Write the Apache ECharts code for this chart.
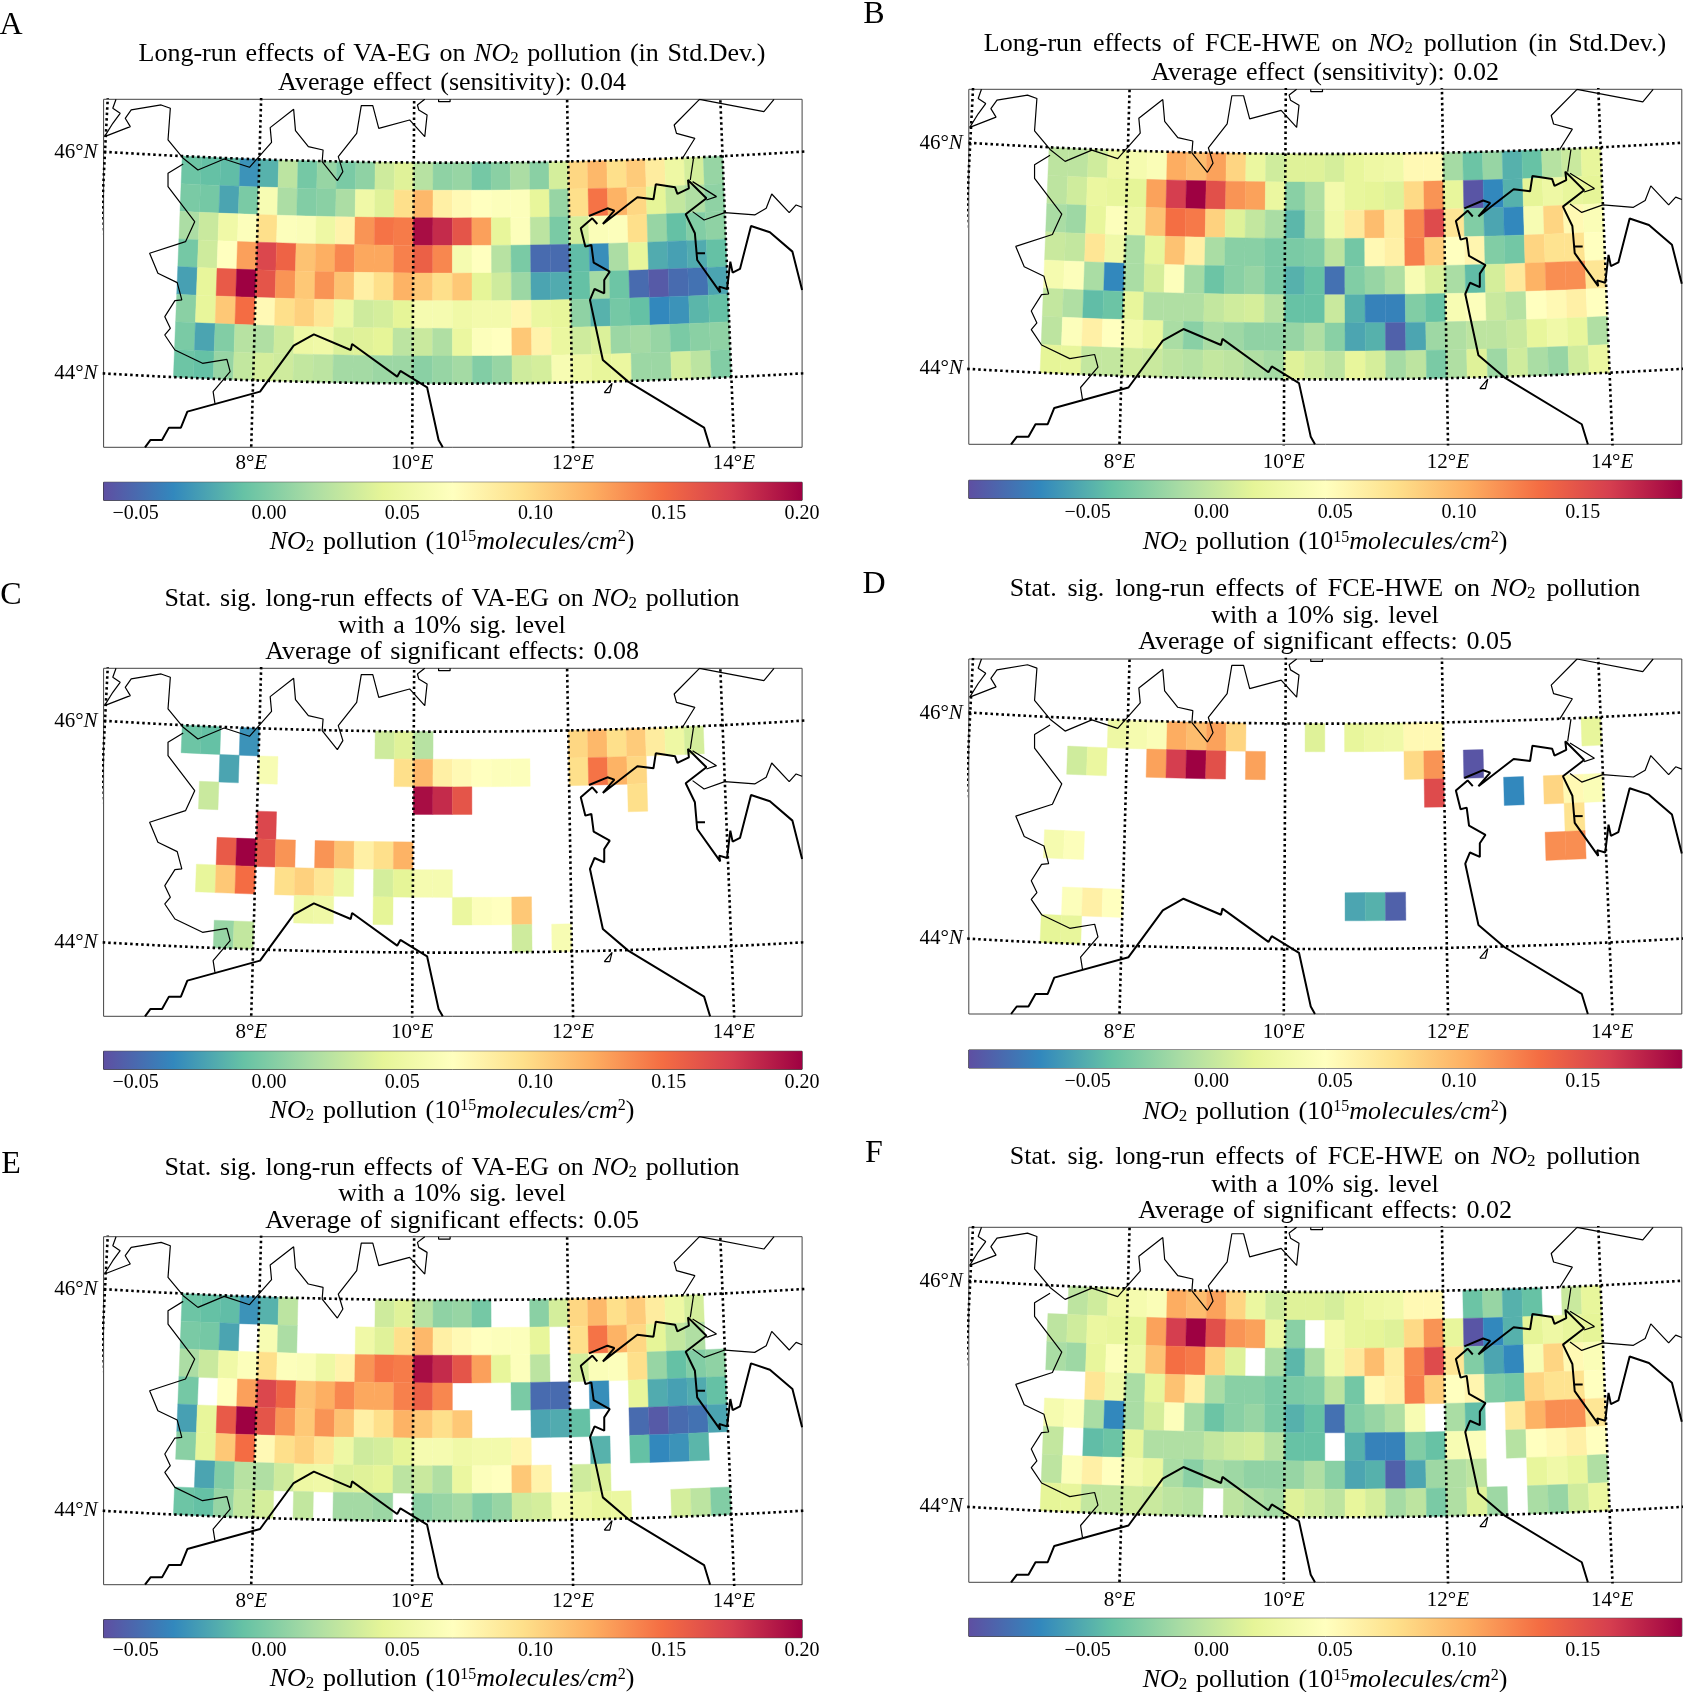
<!DOCTYPE html>
<html><head><meta charset="utf-8">
<style>html,body{margin:0;padding:0;background:#fff}#c{width:1683px;height:1692px}</style>
<script src="https://cdn.jsdelivr.net/npm/echarts@6/dist/echarts.min.js"></script>
</head><body><div id="c"></div>
<script>
// NO2 effect per 0.25 degree cell; rows north to south, columns west to east
const valuesVA = [
[-.007,-.010,-.012,-.031,-.017,.024,-.004,.009,-.002,.006,.032,.040,.022,.006,.009,-.004,.004,.017,.004,.035,.100,.116,.095,.106,.085,.051,.035,.009],
[-.002,-.004,-.023,-.002,.061,.017,.001,.004,.017,.053,.040,.095,.116,.082,.074,.069,.066,.066,.045,.009,.095,.145,.119,.100,.043,.027,.019,.006],
[.017,.030,.053,.066,.095,.066,.064,.051,.079,.132,.145,.142,.195,.182,.161,.127,.045,.066,.024,-.002,.035,.064,.066,.095,.009,-.010,.001,.006],
[-.004,.032,.069,.127,.169,.153,.111,.121,.137,.124,.124,.140,.155,.137,.059,.069,.022,-.002,-.049,-.049,-.012,-.033,.017,.045,-.020,-.025,-.020,-.010],
[-.025,.045,.158,.200,.161,.132,.108,.132,.111,.082,.095,.119,.108,.095,.108,.043,.032,.011,-.023,-.020,-.010,.014,-.007,-.049,-.057,-.049,-.046,-.023],
[.004,.045,.108,.148,.074,.095,.103,.090,.051,.032,.035,.043,.059,.059,.053,.056,.056,.077,.048,.045,.006,-.017,-.004,-.010,-.036,-.031,-.015,-.010],
[-.002,-.023,.001,.022,.019,.032,.051,.053,.038,.040,.043,.024,.030,.019,.048,.066,.069,.108,.079,.048,.032,.038,.011,.014,.009,-.002,.004,.006],
[-.007,-.010,.009,.027,.035,.032,.027,.024,.014,.014,.011,.011,.004,.009,.014,.001,.009,.032,.035,.061,.051,.045,.048,.011,.011,.035,.024,.001]
];
const valuesFCE = [
[-.003,-.003,.006,.026,.034,.040,.104,.095,.109,.081,.023,.006,.014,.014,.009,.020,.026,.029,.052,.052,-.014,-.038,-.020,-.049,-.040,-.006,.003,.020],
[-.003,.006,.023,.020,.017,.109,.161,.190,.150,.115,.109,.023,-.026,-.009,.032,.020,.017,.014,.078,.115,.020,-.095,-.069,-.049,.017,.026,.020,.017],
[-.012,-.017,.020,.043,.026,.092,.132,.127,.083,.014,.000,-.012,-.046,-.012,.029,.066,.095,.063,.121,.153,.069,-.029,-.055,-.069,.037,.081,.052,.040],
[.003,.000,.069,.029,-.012,.020,.092,.060,-.012,-.026,-.026,-.032,-.032,-.029,-.003,-.035,.052,.060,.124,.086,.046,.055,-.029,-.035,.081,.072,.072,.046],
[.034,.043,-.012,-.069,-.012,.009,.043,-.014,-.038,-.026,-.020,-.032,-.049,-.040,-.081,-.029,-.020,-.009,.037,.011,-.012,-.043,.009,.066,.101,.118,.118,.069],
[.000,-.009,-.043,-.038,.020,-.009,-.009,-.009,.000,.006,.009,-.006,-.040,-.040,.003,-.049,-.072,-.072,-.029,-.040,.037,.043,.003,-.006,.046,.052,.060,.046],
[-.003,.043,.060,.046,.032,.023,-.012,-.026,-.012,-.017,-.023,-.023,-.020,-.009,-.026,-.055,-.049,-.089,-.055,-.017,-.009,-.003,-.003,.003,.020,.029,.020,-.009],
[.017,.020,.000,.000,.006,.003,-.003,-.006,.000,-.003,-.009,-.014,.014,.006,-.003,.020,.009,-.014,-.003,-.032,-.009,.014,-.017,.006,-.012,-.020,.006,.023]
];
// significant columns per row (panels C, D)
const sigC = [
[0,1,3,10,11,12,20,21,22,23,24,25,26],[2,4,11,12,13,14,15,16,17,20,21,22,23],[1,12,13,14,23],[4],
[2,3,4,5,7,8,9,10,11],[1,2,3,5,6,7,8,10,11,12,13],[6,7,10,14,15,16,17],[2,3,17,19]];
const sigD = [
[3,4,5,6,7,8,9,13,15,16,17,18,19,27],[1,2,5,6,7,8,10,18,19,21],[19,23,25,26,27],[26],
[0,1,25,26],[],[1,2,3,15,16,17],[0,1]];
// insignificant columns per row (panels E, F)
const dropE = [
[6,7,8,9,16,17,27],[3,6,7,8,19,27],[19],[1,14,15,16,20,22],
[15,16,17,21,22],[18,19,20,22,27],[0,19,22,23,24,25,26,27],[5,7,11,23,24]];
const dropF = [[0,20,25],[13],[10],[0,1],[19,22],[1,14,22],[22,23],[8,23]];
const lonTicks = [8,10,12,14];
const latTicks = [44,46];
const cbTicksVA = [-0.05,0,0.05,0.10,0.15,0.20];
const cbTicksFCE = [-0.05,0,0.05,0.10,0.15];
const spectralR = ['#5e4fa2','#3288bd','#66c2a5','#abdda4','#e6f598','#ffffbf','#fee08b','#fdae61','#f46d43','#d53e4f','#9e0142'];
// borders and coast, in map easting / northing units
const thinLines = [
[[57,28],[50,55],[66,70],[50,100],[32,140],[88,110],[77,85],[90,60],[155,45],[175,55],[170,150],[203,205],[235,240],[292,207],[347,232],[395,157],[392,113],[443,58],[447,122],[475,170],[507,180],[505,215],[538,272],[550,245],[540,200],[580,130],[590,47],[615,47],[628,115],[695,90],[728,140],[733,75],[715,60],[712,45],[728,28]],
[[758,28],[758,35],[783,35],[783,28]],
[[203,222],[170,250],[170,290],[228,395],[208,455],[130,490],[148,550],[190,578],[200,630],[185,632],[163,680],[175,715],[163,735],[185,780],[245,820],[298,808],[305,845],[268,905],[272,940]],
[[1487,28],[1465,65],[1325,28],[1270,105],[1275,130],[1315,145],[1288,205]],
[[1312,205],[1305,270]],
[[1310,275],[1362,320],[1340,330]],
[[1310,365],[1335,390],[1380,368],[1445,375],[1470,355],[1482,312],[1520,368],[1535,345],[1548,352]],
[[1118,908],[1135,880],[1130,908],[1118,908]]
];
const coastLines = [
[[120,1072],[132,1050],[157,1050],[172,1013],[198,1013],[212,965],[370,905],[443,767],[487,733],[567,780],[570,762],[668,860],[675,843],[733,892],[758,1050],[767,1072]],
[[1348,1072],[1335,1013],[1170,875],[1115,810],[1087,630],[1097,597],[1118,610],[1118,570],[1130,545],[1095,518],[1090,465],[1077,470],[1067,415],[1092,385],[1103,402]],
[[1085,378],[1125,355],[1140,362],[1115,402],[1190,322],[1225,328],[1230,283],[1272,292],[1277,312],[1302,295],[1300,270],[1340,325],[1295,373],[1315,430],[1320,510],[1370,607],[1368,590],[1385,597],[1392,515],[1397,548],[1413,537],[1437,408],[1478,427],[1527,485],[1548,600]],
[[1318,490],[1337,490]]
];

// conic-like map projection: lon, lat -> easting, northing
function proj(lon, lat){
  const w = 174.8 - 2.731*(lat-43.424), d = lon-10.5;
  return [788 + d*w, 881 - (lat-44)*331.5 - 1.6*d*d];
}
function colorAt(t){
  t = Math.max(0,Math.min(1,t))*10;
  const i = Math.min(9,Math.floor(t)), f = t-i;
  const h = s=>[1,3,5].map(k=>parseInt(s.substr(k,2),16));
  const a=h(spectralR[i]), b=h(spectralR[i+1]);
  return 'rgb('+a.map((v,k)=>Math.round(v+(b[k]-v)*f)).join(',')+')';
}
const SERIF = '"Liberation Serif","DejaVu Serif",serif';
const titleSize = 26;
const RICH = {
  i:{fontStyle:'italic',fontFamily:SERIF,fontSize:titleSize,color:'#000'},
  s:{fontFamily:SERIF,fontSize:17,color:'#000',verticalAlign:'bottom',lineHeight:20,padding:[10,0,0,0]},
  u:{fontFamily:SERIF,fontSize:16,color:'#000',verticalAlign:'top',lineHeight:20,padding:[0,0,8,0]}
};
const NO2 = '{i|NO}{s|2}';
const wide = s=>s.replace(/ /g,' \u200A');
const wider = s=>s.replace(/ /g,' \u200A\u200A');
const WL = 698.5, WR = 713;
const panels = [
 {tag:'A',x:103.6,y:99.3,w:WL,h:348,tagX:11,tagY:26,vals:valuesVA,range:[-0.062,0.2],ticks:cbTicksVA,keep:null,drop:null,
  lines:['Long-run effects of VA-EG on '+NO2+' pollution (in Std.Dev.)','Average effect (sensitivity): 0.04']},
 {tag:'B',x:968.8,y:89.3,w:WR,h:355,tagX:874,tagY:15,vals:valuesFCE,range:[-0.098,0.19],ticks:cbTicksFCE,keep:null,drop:null,
  lines:['Long-run effects of FCE-HWE on '+NO2+' pollution (in Std.Dev.)','Average effect (sensitivity): 0.02']},
 {tag:'C',x:103.6,y:668.3,w:WL,h:348,tagX:11,tagY:596,vals:valuesVA,range:[-0.062,0.2],ticks:cbTicksVA,keep:sigC,drop:null,
  lines:['Stat. sig. long-run effects of VA-EG on '+NO2+' pollution','with a 10% sig. level','Average of significant effects: 0.08']},
 {tag:'D',x:968.8,y:659,w:WR,h:355,tagX:874,tagY:585,vals:valuesFCE,range:[-0.098,0.19],ticks:cbTicksFCE,keep:sigD,drop:null,
  lines:['Stat. sig. long-run effects of FCE-HWE on '+NO2+' pollution','with a 10% sig. level','Average of significant effects: 0.05']},
 {tag:'E',x:103.6,y:1236.7,w:WL,h:348,tagX:11,tagY:1165,vals:valuesVA,range:[-0.062,0.2],ticks:cbTicksVA,keep:null,drop:dropE,
  lines:['Stat. sig. long-run effects of VA-EG on '+NO2+' pollution','with a 10% sig. level','Average of significant effects: 0.05']},
 {tag:'F',x:968.8,y:1227.3,w:WR,h:355,tagX:874,tagY:1154,vals:valuesFCE,range:[-0.098,0.19],ticks:cbTicksFCE,keep:null,drop:dropF,
  lines:['Stat. sig. long-run effects of FCE-HWE on '+NO2+' pollution','with a 10% sig. level','Average of significant effects: 0.02']}
];
const option = {animation:false,backgroundColor:'#fff',title:[],grid:[],xAxis:[],yAxis:[],series:[]};
const X0 = 30, X1 = 1548, Y0 = 28, Y1 = 1072;
const latBottom = 43.424;
const lonAtLeft = 6.04;
panels.forEach((p,idx)=>{
  const left = p.x<500;
  option.grid.push({left:p.x,top:p.y,width:p.w,height:p.h,show:true,borderColor:'#444',borderWidth:1,backgroundColor:'#fff',containLabel:false});
  const xTickVals = lonTicks.map(l=>proj(l,latBottom)[0]);
  const yTickVals = latTicks.map(l=>proj(lonAtLeft,l)[1]+1);
  const gi = option.grid.length-1;
  option.xAxis.push({type:'value',gridIndex:gi,min:X0,max:X1,splitLine:{show:false},axisLine:{show:false},axisTick:{show:false},
    axisLabel:{show:true,customValues:xTickVals,margin:left?6:7.5,fontFamily:SERIF,fontSize:21,color:'#000',
      formatter:v=>{const i=xTickVals.findIndex(a=>Math.abs(a-v)<1e-6);return lonTicks[i]+'°{i|E}';},
      rich:{i:{fontStyle:'italic',fontFamily:SERIF,fontSize:21,color:'#000'}}}});
  option.yAxis.push({type:'value',gridIndex:gi,min:Y0,max:Y1,inverse:true,splitLine:{show:false},axisLine:{show:false},axisTick:{show:false},
    axisLabel:{show:true,customValues:yTickVals,margin:6,fontFamily:SERIF,fontSize:21,color:'#000',
      formatter:v=>{const i=yTickVals.findIndex(a=>Math.abs(a-v)<1e-6);return latTicks[i]+'°{i|N}';},
      rich:{i:{fontStyle:'italic',fontFamily:SERIF,fontSize:21,color:'#000'}}}});
  // cells
  const data=[];
  p.vals.forEach((row,r)=>row.forEach((v,c)=>{
    if(p.keep && p.keep[r].indexOf(c)<0) return;
    if(p.drop && p.drop[r].indexOf(c)>=0) return;
    const lon=7+c*0.25, lat=46-r*0.25;
    const ctr=proj(lon+0.125,lat-0.125);
    data.push([ctr[0],ctr[1],v,lon,lat]);
  }));
  const rng=p.range;
  option.series.push({type:'custom',xAxisIndex:gi,yAxisIndex:gi,silent:true,data,encode:{x:0,y:1},z:1,clip:true,
    renderItem:(params,api)=>{
      const lon=api.value(3),lat=api.value(4),v=api.value(2);
      const pts=[[lon,lat],[lon+0.25,lat],[lon+0.25,lat-0.25],[lon,lat-0.25]].map(q=>api.coord(proj(q[0],q[1])));
      const col=colorAt((v-rng[0])/(rng[1]-rng[0]));
      return {type:'polygon',shape:{points:pts},style:{fill:col,stroke:col,lineWidth:0.4}};
    }});
  // graticule
  const dotted={color:'#000',width:2.6,type:[2.5,3],cap:'butt'};
  [6,8,10,12,14].forEach(l=>{
    const d=[];for(let k=0;k<=40;k++){d.push(proj(l,43.2+k*0.09));}
    option.series.push({type:'line',xAxisIndex:gi,yAxisIndex:gi,data:d,showSymbol:false,silent:true,z:3,lineStyle:dotted});
  });
  latTicks.forEach(l=>{
    const d=[];for(let k=0;k<=50;k++){d.push(proj(5.7+k*0.2,l));}
    option.series.push({type:'line',xAxisIndex:gi,yAxisIndex:gi,data:d,showSymbol:false,silent:true,z:3,lineStyle:dotted});
  });
  thinLines.forEach(d=>option.series.push({type:'line',xAxisIndex:gi,yAxisIndex:gi,data:d,showSymbol:false,silent:true,z:4,lineStyle:{color:'#000',width:1.2}}));
  coastLines.forEach(d=>option.series.push({type:'line',xAxisIndex:gi,yAxisIndex:gi,data:d,showSymbol:false,silent:true,z:4,lineStyle:{color:'#000',width:2}}));
  // colourbar
  option.grid.push({left:p.x,top:p.y+p.h+(left?35:36),width:p.w,height:18,show:true,borderColor:'#222',borderWidth:1,containLabel:false});
  const ci=option.grid.length-1;
  option.xAxis.push({type:'value',gridIndex:ci,min:rng[0],max:rng[1],splitLine:{show:false},axisLine:{show:false},axisTick:{show:false},
    axisLabel:{customValues:p.ticks,margin:left?3.5:4,fontFamily:SERIF,fontSize:20,color:'#000',formatter:v=>(v<0?'\u2212':'')+Math.abs(v).toFixed(2),hideOverlap:false}});
  option.yAxis.push({type:'value',gridIndex:ci,min:0,max:1,show:false});
  option.series.push({type:'custom',xAxisIndex:ci,yAxisIndex:ci,silent:true,data:[[rng[0],0,rng[1],1]],encode:{x:[0,2],y:[1,3]},z:1,
    renderItem:(params,api)=>{
      const a=api.coord([api.value(0),api.value(1)]),b=api.coord([api.value(2),api.value(3)]);
      return {type:'rect',shape:{x:a[0],y:b[1],width:b[0]-a[0],height:a[1]-b[1]},
        style:{fill:new echarts.graphic.LinearGradient(0,0,1,0,spectralR.map((c,i)=>({offset:i/10,color:c})))}};
    }});
  // texts
  const cx=left?452:1325;
  const n=p.lines.length;
  const gaps=n===2?(left?[-45.5,-16.5]:[-45,-16]):(left?[-69,-42.5,-16]:[-70,-42.5,-16.5]);
  p.lines.forEach((t,k)=>option.title.push({text:(!left&&k===0)?wider(t):wide(t),left:cx,top:p.y+gaps[k],textAlign:'center',textVerticalAlign:'middle',padding:0,
    textStyle:{fontFamily:SERIF,fontSize:titleSize,fontWeight:'normal',color:'#000',rich:RICH}}));
  option.title.push({text:p.tag,left:p.tagX,top:p.tagY,textAlign:'center',textVerticalAlign:'middle',padding:0,
    textStyle:{fontFamily:SERIF,fontSize:32,fontWeight:'normal',color:'#000'}});
  option.title.push({text:wide(NO2+' pollution (10{u|15}{i|molecules/cm}{u|2})'),left:cx,top:p.y+p.h+(left?94.7:98),textAlign:'center',textVerticalAlign:'middle',padding:0,
    textStyle:{fontFamily:SERIF,fontSize:titleSize,fontWeight:'normal',color:'#000',rich:RICH}});
});
const chart = echarts.init(document.getElementById('c'),null,{renderer:'canvas'});
chart.setOption(option);
</script>
</body></html>
